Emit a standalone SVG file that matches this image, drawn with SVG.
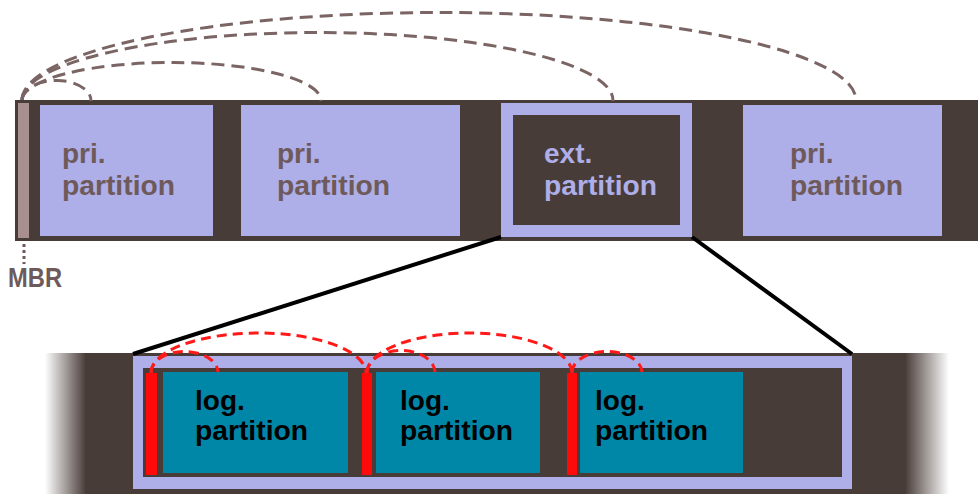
<svg xmlns="http://www.w3.org/2000/svg" width="978" height="494" viewBox="0 0 978 494">
<defs>
<style>
.dark{fill:#483c38}
.lav{fill:#aeaee8}
.teal{fill:#0087a8}
.red{fill:#ff0a0a}
.t{font-family:"Liberation Sans",Arial,sans-serif;font-weight:bold;font-size:28px}
.tb{fill:#6e5a5a}
.tl{fill:#aeaee8}
.tk{fill:#000}
.arc{fill:none;stroke:#7a6464;stroke-width:3;stroke-dasharray:13 7}
.rarc{fill:none;stroke:#ff1a1a;stroke-width:3;stroke-dasharray:10 6}
.zoom{stroke:#000;stroke-width:4}
</style>
<linearGradient id="fadeL" x1="0" y1="0" x2="1" y2="0">
<stop offset="0" stop-color="#483c38" stop-opacity="0"/>
<stop offset="1" stop-color="#483c38"/>
</linearGradient>
<linearGradient id="fadeR" x1="0" y1="0" x2="1" y2="0">
<stop offset="0" stop-color="#483c38"/>
<stop offset="1" stop-color="#483c38" stop-opacity="0"/>
</linearGradient>
</defs>
<rect width="978" height="494" fill="#fff"/>

<g id="disk">
<rect class="dark" x="15" y="100" width="963" height="141"/>
</g>
<g id="mbr">
<rect x="18" y="103" width="11" height="135" fill="#a89090"/>
<line x1="24" y1="244" x2="24" y2="264" stroke="#6e5a5a" stroke-width="3" stroke-dasharray="3 3"/>
<text class="t tb" x="8" y="287" font-size="23" textLength="54" lengthAdjust="spacingAndGlyphs">MBR</text>
</g>
<g id="pri1">
<rect class="lav" x="40" y="105" width="173" height="131"/>
<text class="t tb" x="62" y="163">pri.</text>
<text class="t tb" x="62" y="195" textLength="113" lengthAdjust="spacingAndGlyphs">partition</text>
</g>
<g id="pri2">
<rect class="lav" x="241" y="105" width="219" height="131"/>
<text class="t tb" x="277" y="163">pri.</text>
<text class="t tb" x="277" y="195" textLength="113" lengthAdjust="spacingAndGlyphs">partition</text>
</g>
<g id="ext">
<rect class="lav" x="501" y="103" width="191" height="134"/>
<rect class="dark" x="513" y="115" width="167" height="110"/>
<text class="t tl" x="544" y="163">ext.</text>
<text class="t tl" x="544" y="195" textLength="113" lengthAdjust="spacingAndGlyphs">partition</text>
</g>
<g id="pri4">
<rect class="lav" x="743" y="105" width="199" height="131"/>
<text class="t tb" x="790" y="163">pri.</text>
<text class="t tb" x="790" y="195" textLength="113" lengthAdjust="spacingAndGlyphs">partition</text>
</g>

<g id="extdetail">
<rect x="45" y="353" width="41" height="141" fill="url(#fadeL)"/>
<rect class="dark" x="85" y="353" width="821" height="141"/>
<rect x="905" y="353" width="44" height="141" fill="url(#fadeR)"/>
<rect class="lav" x="133" y="356" width="719" height="133"/>
<rect class="dark" x="143" y="368" width="699" height="109"/>
</g>
<g id="log1">
<rect class="red" x="146" y="373" width="11" height="102"/>
<rect class="teal" x="163" y="372" width="185" height="101"/>
<text class="t tk" x="195" y="410">log.</text>
<text class="t tk" x="195" y="440" textLength="113" lengthAdjust="spacingAndGlyphs">partition</text>
</g>
<g id="log2">
<rect class="red" x="362" y="373" width="10" height="102"/>
<rect class="teal" x="376" y="372" width="164" height="101"/>
<text class="t tk" x="400" y="410">log.</text>
<text class="t tk" x="400" y="440" textLength="113" lengthAdjust="spacingAndGlyphs">partition</text>
</g>
<g id="log3">
<rect class="red" x="567" y="373" width="10" height="102"/>
<rect class="teal" x="580" y="372" width="163" height="101"/>
<text class="t tk" x="595" y="410">log.</text>
<text class="t tk" x="595" y="440" textLength="113" lengthAdjust="spacingAndGlyphs">partition</text>
</g>

<g id="connectors">
<path class="arc" d="M22,100 A34.5,20 0 0 1 91,101"/>
<path class="arc" d="M22,100 A149.5,38 0 0 1 321,101"/>
<path class="arc" d="M22,100 A295.5,68 0 0 1 613,101"/>
<path class="arc" d="M22,100 A417,88 0 0 1 856,101"/>
<line class="zoom" x1="501" y1="237" x2="133" y2="354"/>
<line class="zoom" x1="692" y1="237" x2="852" y2="354"/>
<path class="rarc" d="M151,373 A33.5,21 0 0 1 218,372"/>
<path class="rarc" d="M151,373 A107.5,40 0 0 1 366,373"/>
<path class="rarc" d="M367,373 A34,22 0 0 1 435,372"/>
<path class="rarc" d="M367,373 A102.5,40 0 0 1 572,373"/>
<path class="rarc" d="M572,373 A35,21 0 0 1 642,372"/>
</g>
</svg>
